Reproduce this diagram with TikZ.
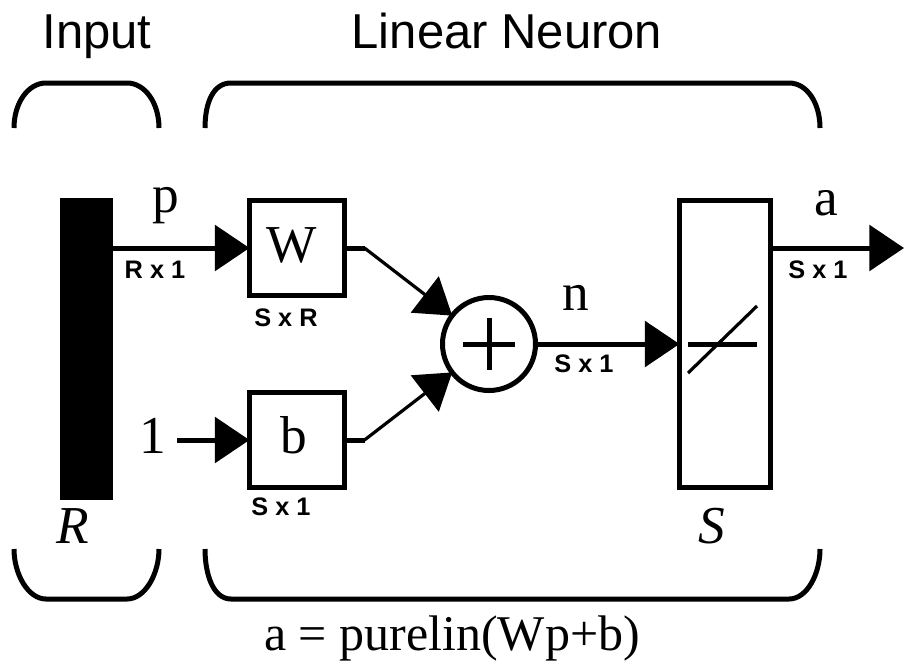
\documentclass[tikz,border=0pt]{standalone}
\usepackage{fontspec}
\setmainfont{Liberation Serif}
\newfontfamily\sansf{Liberation Sans}
\usetikzlibrary{arrows.meta}
\begin{document}
\begin{tikzpicture}[x=0.75pt,y=-0.75pt,
  thickline/.style={line width=3.75pt},
  thinline/.style={line width=2.4pt},
  blk/.style={draw, line width=3.75pt, inner sep=0pt, outer sep=0pt},
  arr/.style={-{Triangle[length=26pt,width=34pt]}},
  lbl/.style={anchor=base, inner sep=0pt, font=\fontsize{40}{44}\selectfont},
  dimlbl/.style={anchor=center, inner sep=0pt, font=\sansf\bfseries\fontsize{19}{20}\selectfont},
  ttl/.style={anchor=base, inner sep=0pt, font=\sansf\fontsize{36.75}{40}\selectfont},
  brk/.style={line width=3.75pt}
]
\useasboundingbox (0,0) rectangle (905,665);

% titles
\node[ttl] (tIn) at (97,48) {Input};
\node[ttl] (tLN) at (507,48) {Linear Neuron};

% top brackets
\draw[brk] (14,128) .. controls (14,103) and (28,83) .. (46,83) -- (127,83)
  .. controls (145,83) and (159,103) .. (159,128);
\draw[brk] (205,128) .. controls (205,103) and (213,83) .. (231,83) -- (789,83)
  .. controls (807,83) and (820,103) .. (820,128);
% bottom brackets
\draw[brk] (14,549) .. controls (14,574) and (28,599) .. (46,599) -- (127,599)
  .. controls (145,599) and (159,574) .. (159,549);
\draw[brk] (205,549) .. controls (205,574) and (213,599) .. (231,599) -- (789,599)
  .. controls (807,599) and (820,574) .. (820,549);

% blocks
\node[fill=black, inner sep=0pt, outer sep=0pt, minimum width={53*0.75pt}, minimum height={302*0.75pt}] (bar) at (86.5,349) {};
\node[blk, minimum width={95*0.75pt}, minimum height={95*0.75pt}] (Wbox) at (297,248) {};
\node[blk, minimum width={95*0.75pt}, minimum height={95*0.75pt}] (bbox) at (297,440) {};
\node[blk, circle, minimum size={93*0.75pt}] (sum) at (489,344) {};
\node[blk, minimum width={91*0.75pt}, minimum height={287*0.75pt}] (fbox) at (725,344) {};

% block contents
\node[lbl] (Wt) at (292,262) {W};
\node[lbl] (bt) at (294,453) {b};
\draw[thickline] (463,344) -- (515,344);
\draw[thickline] (489,318) -- (489,370);
\draw[thickline] (688,344) -- (757,344);
\draw[thinline] (688,373) -- (757,306);

% inputs
\node[lbl] (one) at (153,453) {1};
\coordinate (oneEnd) at (177,440);
\draw[thickline, arr] (oneEnd) -- (bbox.west);
\draw[thickline, arr] (bar.east |- Wbox.west) -- (Wbox.west);

% to summer
\draw[thickline] (Wbox.east) -- ++(20,0) coordinate (w1);
\draw[thinline, arr] (w1) -- (sum);
\draw[thickline] (bbox.east) -- ++(20,0) coordinate (b1);
\draw[thinline, arr] (b1) -- (sum);

% to transfer function
\draw[thickline, arr] (sum) -- (fbox);

% output
\coordinate (outp) at (904,248);
\draw[thickline, arr] (fbox.east |- Wbox.east) -- (outp);

% signal labels
\node[lbl] (lp) at (166,212) {p};
\node[lbl] (ln) at (576,310) {n};
\node[lbl] (la) at (826,215) {a};
\node[lbl] (lR) at (73,543) {\itshape R};
\node[lbl] (lS) at (712,543) {\itshape S};

% dimension labels
\node[dimlbl] (dp) at (155,270) {R x 1};
\node[dimlbl] (dW) at (286,318) {S x R};
\node[dimlbl] (db) at (281,507) {S x 1};
\node[dimlbl] (dn) at (584,364) {S x 1};
\node[dimlbl] (da) at (818,270) {S x 1};

% formula
\node[anchor=base, inner sep=0pt, font=\fontsize{37.5}{40}\selectfont] (form) at (452,650) {a = purelin(Wp+b)};
\end{tikzpicture}
\end{document}
